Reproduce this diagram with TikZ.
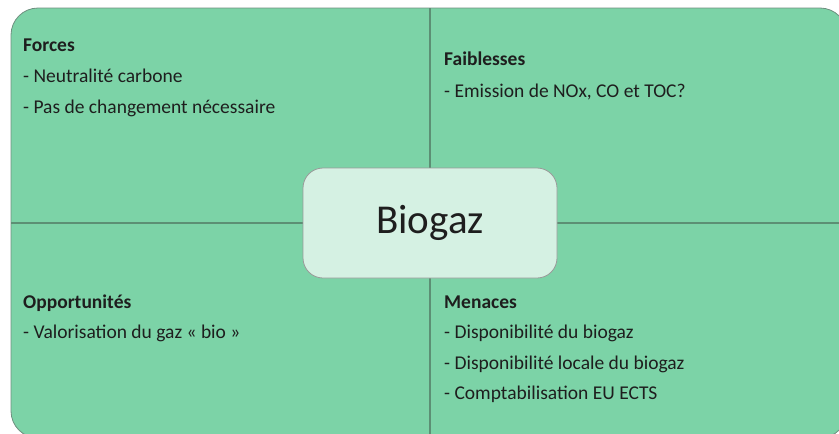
\documentclass[tikz,border=0pt]{standalone}
\usepackage{fontspec}
\setmainfont{Carlito}
\definecolor{swotfill}{HTML}{7CD3A7}
\definecolor{swotline}{HTML}{5C8F74}
\definecolor{swotedge}{HTML}{6E8F7F}
\definecolor{corefill}{HTML}{D5F1E3}
\definecolor{coreedge}{HTML}{9A9A9A}
\definecolor{ink}{HTML}{1E1E1E}
\begin{document}
\begin{tikzpicture}[x=1pt,y=-1pt]
        \useasboundingbox (0,0) rectangle (839,434);
        \begin{scope}
          \clip (0,0) rectangle (839,434);
          \draw[swotedge,fill=swotfill,line width=0.8pt,rounded corners=27pt] (11,8) rectangle (847,438);
          \coordinate (top) at (430,8);
          \coordinate (bottom) at (430,438);
          \coordinate (left) at (11,223);
          \coordinate (right) at (847,223);
          \draw[swotline,line width=1.3pt] (top) -- (bottom);
          \draw[swotline,line width=1.3pt] (left) -- (right);
        \end{scope}
        \node[draw=coreedge,fill=corefill,line width=0.8pt,rounded corners=20pt,minimum width=254pt,minimum height=110pt,font=\fontsize{41}{46}\selectfont,text=ink] (core) at (430,223) {Biogaz};
        \begin{scope}[every node/.style={anchor=base west,inner sep=0pt,text=ink,font=\fontsize{19.5}{23}\selectfont}]
          \node[font=\fontsize{19.5}{23}\selectfont\bfseries] (s) at (23,51) {Forces};
          \node (s1) at (23,82) {- Neutralité carbone};
          \node (s2) at (23,113) {- Pas de changement nécessaire};
          \node[font=\fontsize{19.5}{23}\selectfont\bfseries] (w) at (444,65) {Faiblesses};
          \node (w1) at (444,97) {- Emission de NOx, CO et TOC?};
          \node[font=\fontsize{19.5}{23}\selectfont\bfseries] (o) at (23,308) {Opportunités};
          \node (o1) at (23,338) {- Valorisation du gaz « bio »};
          \node[font=\fontsize{19.5}{23}\selectfont\bfseries] (t) at (444,308) {Menaces};
          \node (t1) at (444,338) {- Disponibilité du biogaz};
          \node (t2) at (444,369) {- Disponibilité locale du biogaz};
          \node (t3) at (444,399) {- Comptabilisation EU ECTS};
        \end{scope}
\end{tikzpicture}
\end{document}
